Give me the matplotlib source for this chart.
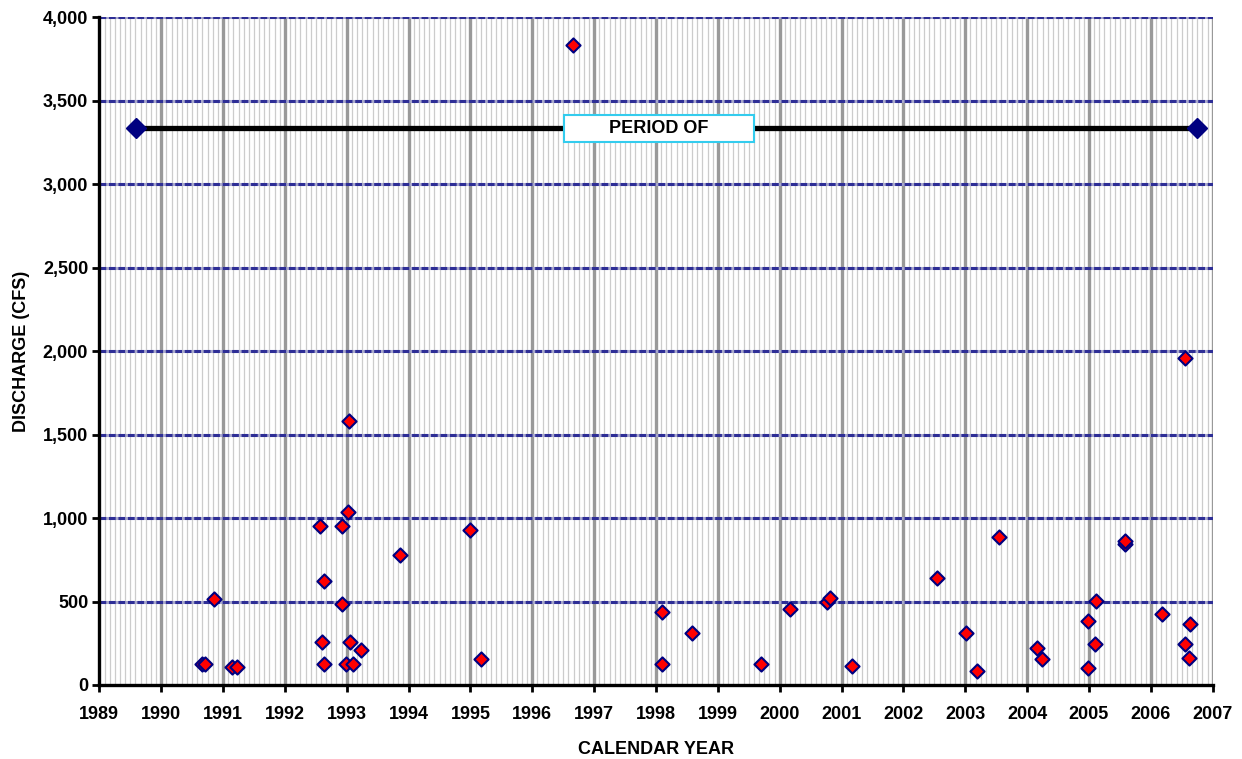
import numpy as np
import matplotlib.pyplot as plt
from matplotlib.patches import Rectangle
from matplotlib.ticker import FuncFormatter, MultipleLocator

plt.rcParams['font.family'] = ['Liberation Sans', 'DejaVu Sans']
plt.rcParams['font.weight'] = 'bold'

# ----------------------
# Daten (aus Grafik abgelesen)
# ----------------------
years = [1990.66, 1990.71, 1990.85, 1991.15, 1991.23,
         1992.56, 1992.60, 1992.63, 1992.64, 1992.92, 1992.93, 1992.98,
         1993.02, 1993.03, 1993.05, 1993.10, 1993.23, 1993.86,
         1995.00, 1995.17, 1996.66,
         1998.09, 1998.10, 1998.58, 1999.69, 2000.17, 2000.76, 2000.81,
         2001.17, 2002.54, 2003.01, 2003.19, 2003.55, 2004.16, 2004.24,
         2004.99, 2004.99, 2005.10, 2005.12, 2005.59, 2005.59,
         2006.18, 2006.55, 2006.56, 2006.62, 2006.63]
discharge = [126, 126, 515, 110, 110,
             954, 259, 126, 625, 485, 954, 126,
             1034, 1583, 259, 126, 210, 778,
             928, 154, 3830,
             126, 439, 313, 126, 455, 499, 519,
             116, 639, 313, 86, 884, 222, 154,
             381, 100, 247, 503, 844, 864,
             425, 1956, 247, 164, 365]

period_years = [1989.6, 2006.74]
period_level = [3333, 3333]
period_label = "PERIOD OF"
label_year = 1998.05

x_min, x_max = 1989, 2007
y_min, y_max = 0, 4000

# ----------------------
# Figur
# ----------------------
fig = plt.figure(figsize=(12.42, 7.59), dpi=100)
ax = fig.add_axes([0.080, 0.0975, 0.8964, 0.880])
ax.set_xlim(x_min, x_max)
ax.set_ylim(y_min, y_max)

# Gitter: Monate hell, Jahre grau, Abfluss gestrichelt blau
for m in np.arange(x_min, x_max, 1 / 12):
    ax.axvline(m, color='#cccccc', lw=0.9, zorder=0)
for yr in range(x_min + 1, x_max + 1):
    ax.axvline(yr, color='#999999', lw=2.4, zorder=1)
for q in range(500, y_max + 1, 500):
    ax.axhline(q, color='#a8a8cc', lw=2.2, zorder=1)
    ax.axhline(q, color='#2e2e96', lw=2.2, dashes=(2.2, 0.9), zorder=1.5)

# Zeitraum-Linie
ax.plot(period_years, period_level, color='black', lw=3.8, zorder=3,
        marker='D', markersize=10.5, markerfacecolor='#000080',
        markeredgecolor='#000080')
box_w, box_h = 3.07, 162
ax.add_patch(Rectangle((label_year - box_w / 2, period_level[0] - box_h / 2),
                       box_w, box_h, facecolor='white', edgecolor='#33ccee',
                       lw=1.5, zorder=4))
ax.text(label_year, period_level[0], period_label, ha='center', va='center',
        fontsize=13, fontweight='bold', zorder=5)

# Messpunkte
ax.scatter(years, discharge, marker='D', s=52, facecolor='red',
           edgecolor='#000080', linewidths=1.5, zorder=6)

# Achsen
for side in ['top', 'right']:
    ax.spines[side].set_visible(False)
for side in ['left', 'bottom']:
    ax.spines[side].set_linewidth(2.4)
    ax.spines[side].set_zorder(7)
ax.xaxis.set_major_locator(MultipleLocator(1))
ax.yaxis.set_major_locator(MultipleLocator(500))
ax.yaxis.set_major_formatter(FuncFormatter(lambda v, p: f"{int(v):,}"))
ax.tick_params(axis='both', direction='out', length=5, width=2,
               labelsize=13, pad=3)
ax.tick_params(axis='x', pad=10)
for lab in ax.get_xticklabels() + ax.get_yticklabels():
    lab.set_fontweight('bold')

ax.set_xlabel("CALENDAR YEAR", fontsize=13, fontweight='bold', labelpad=13)
ax.set_ylabel("DISCHARGE (CFS)", fontsize=13, fontweight='bold', labelpad=9)

fig.savefig("out.png", dpi=100)
